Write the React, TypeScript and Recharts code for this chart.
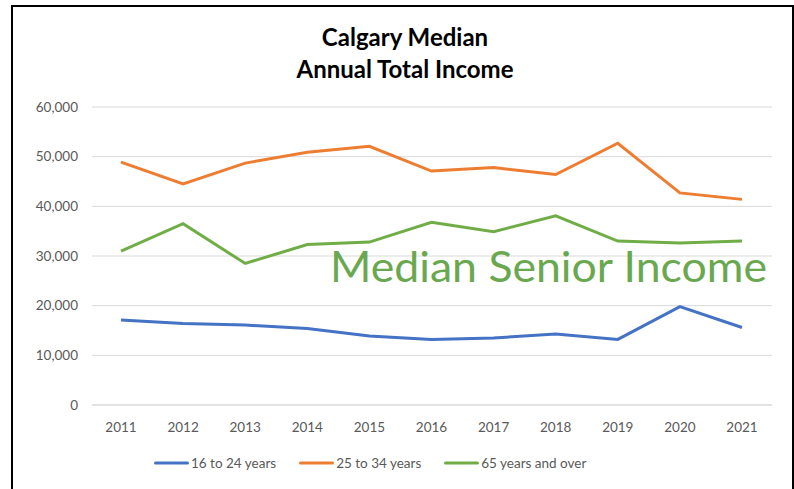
import { LineChart, Line, XAxis, YAxis, CartesianGrid } from 'recharts';

const years = ['2011', '2012', '2013', '2014', '2015', '2016', '2017', '2018', '2019', '2020', '2021'];
const youth = [17100, 16400, 16100, 15400, 13900, 13200, 13500, 14300, 13200, 19800, 15600];
const adults = [48900, 44500, 48700, 50900, 52100, 47100, 47800, 46400, 52700, 42700, 41400];
const seniors = [31000, 36500, 28500, 32300, 32800, 36800, 34900, 38100, 33000, 32600, 33000];
const yTicks = [0, 10000, 20000, 30000, 40000, 50000, 60000];

const series = [
  { key: 'youth', name: '16 to 24 years', color: '#4472C4' },
  { key: 'adults', name: '25 to 34 years', color: '#ED7D31' },
  { key: 'seniors', name: '65 years and over', color: '#70AD47' },
];

const data = years.map((year, i) => ({
  year,
  youth: youth[i],
  adults: adults[i],
  seniors: seniors[i],
}));

const font = 'Lato, "Open Sans", sans-serif';

function LegendBox() {
  return (
    <div style={{ position: 'absolute', left: 154, top: 455, display: 'flex', fontFamily: font, fontSize: 13.5, color: '#595959' }}>
      {series.map((s, i) => (
        <div key={s.key} style={{ display: 'flex', alignItems: 'center', marginLeft: i === 0 ? 0 : 23 }}>
          <svg width={35} height={6} style={{ marginRight: 2 }}>
            <line x1={1.5} y1={3} x2={33.5} y2={3} stroke={s.color} strokeWidth={3} strokeLinecap="round" />
          </svg>
          <span>{s.name}</span>
        </div>
      ))}
    </div>
  );
}

export default function App() {
  return (
    <div style={{ position: 'absolute', left: 0, top: 0, width: 794, height: 489, overflow: 'hidden', background: '#fff' }}>
      <div style={{ position: 'absolute', left: 11, top: 5, width: 779, height: 520, border: '2px solid #000' }} />
      <div style={{ position: 'absolute', left: 0, top: 21, width: 810, textAlign: 'center', fontFamily: font, fontWeight: 700, fontSize: 24, lineHeight: '32px', color: '#000' }}>
        Calgary Median<br />Annual Total Income
      </div>
      <LineChart width={794} height={489} data={data} margin={{ top: 107, right: 22, bottom: 54, left: 12 }}>
        <CartesianGrid vertical={false} stroke="#d9d9d9" strokeWidth={1} />
        <XAxis
          dataKey="year"
          height={30}
          tickLine={false}
          axisLine={{ stroke: '#d9d9d9' }}
          tick={{ fill: '#595959', fontSize: 13.5, fontFamily: font }}
          tickMargin={11}
          interval={0}
          padding={{ left: 29, right: 30 }}
        />
        <YAxis
          width={80}
          domain={[0, 60000]}
          ticks={yTicks}
          axisLine={false}
          tickLine={false}
          tickSize={0}
          tickMargin={14}
          tick={{ fill: '#595959', fontSize: 13.5, fontFamily: font }}
          tickFormatter={(v: number) => v.toLocaleString('en-US')}
        />
        {series.map((s) => (
          <Line
            key={s.key}
            type="linear"
            dataKey={s.key}
            name={s.name}
            stroke={s.color}
            strokeWidth={3}
            dot={false}
            isAnimationActive={false}
          />
        ))}
      </LineChart>
      <LegendBox />
      <svg style={{ position: 'absolute', left: 0, top: 0 }} width={794} height={489} pointerEvents="none">
        <text x={330} y={282} fill="#6AA84F" fontFamily={font} fontSize={42} textLength={437} lengthAdjust="spacingAndGlyphs">
          Median Senior Income
        </text>
      </svg>
    </div>
  );
}
